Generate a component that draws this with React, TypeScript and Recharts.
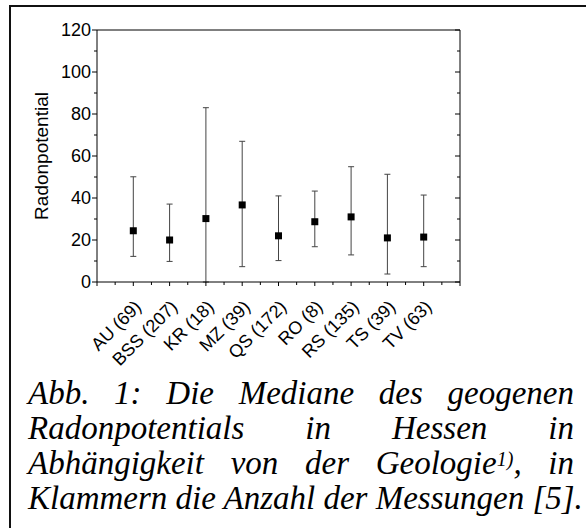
import React from 'react';
import { ScatterChart, Scatter, XAxis, YAxis, ErrorBar, Label } from 'recharts';

// geology units with number of measurements
const categories = ['AU (69)', 'BSS (207)', 'KR (18)', 'MZ (39)', 'QS (172)', 'RO (8)', 'RS (135)', 'TS (39)', 'TV (63)'];
const medians = [24.4, 20, 30.2, 36.7, 22, 28.7, 31, 21, 21.4];
const minima = [12.2, 9.8, 0, 7.3, 10.2, 16.8, 12.9, 3.8, 7.3];
const maxima = [50.1, 37.1, 83, 67, 41, 43.3, 54.9, 51.3, 41.4];

const yTicks = [0, 10, 20, 30, 40, 50, 60, 70, 80, 90, 100, 110, 120];
const xTicks = [0, 0.5, 1, 1.5, 2, 2.5, 3, 3.5, 4, 4.5, 5, 5.5, 6, 6.5, 7, 7.5, 8, 8.5, 9, 9.5, 10];

const data = categories.map((name, i) => ({
  pos: i + 1,
  median: medians[i],
  err: [medians[i] - minima[i], maxima[i] - medians[i]],
}));

const sans = 'Liberation Sans, Arial, sans-serif';

function BottomTick(props: any) {
  const { x, y, payload } = props;
  const v = payload.value;
  const major = Number.isInteger(v);
  const label = major && v >= 1 && v <= categories.length ? categories[v - 1] : '';
  return (
    <g>
      <line x1={x} y1={y} x2={x} y2={y + (major ? 4 : 3)} stroke="#000" />
      {label && (
        <text
          x={x + 9}
          y={y + 26}
          transform={`rotate(-45, ${x + 9}, ${y + 26})`}
          textAnchor="end"
          fontSize={18}
          fontFamily={sans}
          fill="#000"
        >
          {label}
        </text>
      )}
    </g>
  );
}

function TopTick(props: any) {
  const { x, y, payload } = props;
  const major = Number.isInteger(payload.value);
  return <line x1={x} y1={y} x2={x} y2={y + (major ? 4 : 3)} stroke="#000" />;
}

function LeftTick(props: any) {
  const { x, y, payload } = props;
  const major = payload.value % 20 === 0;
  return (
    <g>
      <line x1={x} y1={y} x2={x - (major ? 5 : 3)} y2={y} stroke="#000" />
      {major && (
        <text x={x - 6} y={y} dy="0.36em" textAnchor="end" fontSize={18} fontFamily={sans} fill="#000">
          {payload.value}
        </text>
      )}
    </g>
  );
}

function RightTick(props: any) {
  const { x, y, payload } = props;
  const major = payload.value % 20 === 0;
  return <line x1={x} y1={y} x2={x - (major ? 5 : 3)} y2={y} stroke="#000" />;
}

function Square(props: any) {
  const { cx, cy } = props;
  return <rect x={cx - 3.5} y={cy - 3.5} width={7} height={7} fill="#000" />;
}

export default function App() {
  return (
    <div style={{ position: 'absolute', left: 0, top: 0, width: 586, height: 528, overflow: 'hidden', background: '#fff' }}>
      <div
        style={{
          position: 'absolute',
          left: 9,
          top: 5,
          width: 700,
          height: 700,
          borderLeft: '2px solid #111',
          borderTop: '2px solid #111',
        }}
      />
      <div style={{ position: 'absolute', left: 0, top: 0 }}>
        <ScatterChart width={586} height={390} margin={{ top: 29, right: 125, bottom: 0, left: 0 }}>
          <XAxis
            xAxisId="bottom"
            dataKey="pos"
            type="number"
            domain={[0, 10]}
            allowDataOverflow
            ticks={xTicks}
            interval={0}
            tickSize={0}
            tickMargin={0}
            tickLine={false}
            tick={<BottomTick />}
            height={108}
            stroke="#000"
          />
          <XAxis
            xAxisId="top"
            orientation="top"
            type="number"
            domain={[0, 10]}
            allowDataOverflow
            ticks={xTicks}
            interval={0}
            tickSize={0}
            tickMargin={0}
            tickLine={false}
            tick={<TopTick />}
            height={1}
            stroke="#000"
          />
          <YAxis
            yAxisId="left"
            dataKey="median"
            type="number"
            domain={[0, 120]}
            allowDataOverflow
            ticks={yTicks}
            interval={0}
            tickSize={0}
            tickMargin={0}
            tickLine={false}
            tick={<LeftTick />}
            width={97}
            stroke="#000"
          >
            <Label
              content={({ viewBox }: any) => {
                const cx = viewBox.x + 48;
                const cy = viewBox.y + viewBox.height / 2;
                return (
                  <text
                    x={cx}
                    y={cy}
                    transform={`rotate(-90, ${cx}, ${cy})`}
                    textAnchor="middle"
                    fontSize={19}
                    fontFamily={sans}
                    fill="#000"
                  >
                    Radonpotential
                  </text>
                );
              }}
            />
          </YAxis>
          <YAxis
            yAxisId="right"
            orientation="right"
            type="number"
            domain={[0, 120]}
            allowDataOverflow
            ticks={yTicks}
            interval={0}
            tickSize={0}
            tickMargin={0}
            tickLine={false}
            tick={<RightTick />}
            width={1}
            stroke="#000"
          />
          <Scatter
            data={data}
            xAxisId="bottom"
            yAxisId="left"
            dataKey="median"
            shape={<Square />}
            isAnimationActive={false}
          >
            <ErrorBar dataKey="err" direction="y" width={3} stroke="#444" strokeWidth={1} isAnimationActive={false} />
          </Scatter>
        </ScatterChart>
      </div>
      <div
        style={{
          position: 'absolute',
          left: 28,
          top: 376,
          width: 546,
          fontFamily: '"Liberation Serif", "Times New Roman", serif',
          fontStyle: 'italic',
          fontSize: 33,
          lineHeight: '35px',
          color: '#000',
        }}
      >
        <div style={{ textAlign: 'justify', textAlignLast: 'justify' }}>Abb. 1: Die Mediane des geogenen</div>
        <div style={{ textAlign: 'justify', textAlignLast: 'justify' }}>Radonpotentials in Hessen in</div>
        <div style={{ textAlign: 'justify', textAlignLast: 'justify' }}>
          Abhängigkeit von der Geologie
          <span style={{ fontSize: 20, lineHeight: '20px', verticalAlign: 8 }}>1)</span>, in
        </div>
        <div style={{ textAlign: 'left', whiteSpace: 'nowrap' }}>Klammern die Anzahl der Messungen [5].</div>
      </div>
    </div>
  );
}
